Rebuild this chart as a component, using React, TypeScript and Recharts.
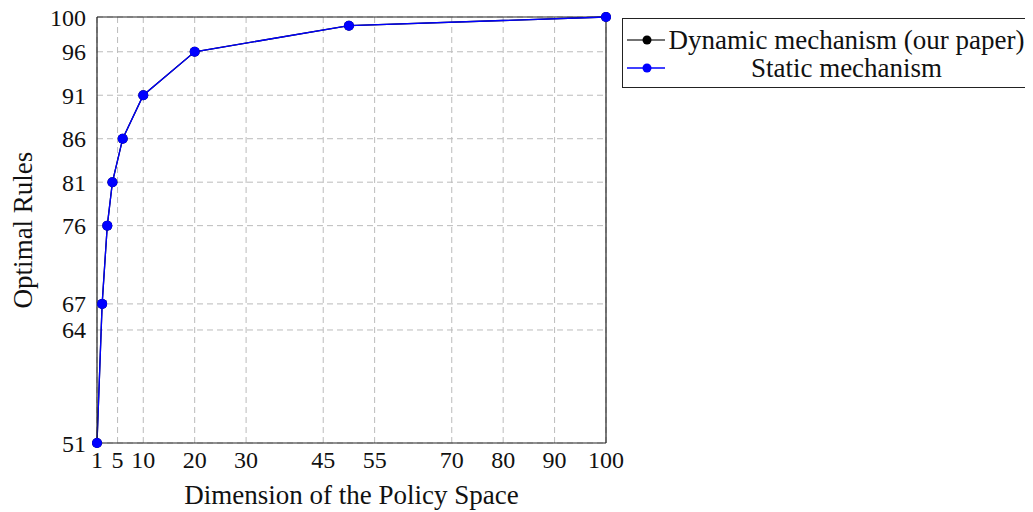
import React from "react";
import { LineChart, Line, XAxis, YAxis, CartesianGrid, ReferenceLine } from "recharts";

const dimensions = [1, 2, 3, 4, 6, 10, 20, 50, 100];
const dynamicValues = [51, 67, 76, 81, 86, 91, 96, 99, 100];
const staticValues = [51, 67, 76, 81, 86, 91, 96, 99, 100];
const xTicks = [1, 5, 10, 20, 30, 45, 55, 70, 80, 90, 100];
const yTicks = [51, 64, 67, 76, 81, 86, 91, 96, 100];
const seriesNames = ["Dynamic mechanism (our paper)", "Static mechanism"];

const data = dimensions.map((d, i) => ({ x: d, dynamic: dynamicValues[i], static: staticValues[i] }));

const FONT = "'Liberation Serif', 'DejaVu Serif', serif";

const LegendBox = () => (
  <div
    style={{
      position: "absolute",
      left: 614,
      top: 18,
      border: "1.3px solid #222",
      background: "#fff",
      width: 411,
      height: 70,
      boxSizing: "border-box",
      fontFamily: FONT,
      fontSize: 27,
      color: "#111",
      padding: "7px 4px 0 4px",
    }}
  >
    {[
      { name: seriesNames[0], color: "#000", line: "#444" },
      { name: seriesNames[1], color: "#0000ff", line: "#0000ff" },
    ].map((s) => (
      <div key={s.name} style={{ display: "flex", alignItems: "center", height: 28, lineHeight: "28px" }}>
        <svg width={38} height={28} style={{ flex: "none" }}>
          <line x1={0} y1={14} x2={38} y2={14} stroke={s.line} strokeWidth={1.3} />
          <circle cx={20} cy={14} r={4.5} fill={s.color} />
        </svg>
        <span style={{ flex: 1, textAlign: "center", whiteSpace: "nowrap" }}>{s.name}</span>
      </div>
    ))}
  </div>
);

export default function App() {
  return (
    <div style={{ position: "relative", width: 1025, height: 512, marginTop: -8 }}>
      <LineChart
        width={1025}
        height={512}
        data={data}
        margin={{ top: 17, right: 427, bottom: 0, left: 0 }}
        style={{ fontFamily: FONT }}
      >
        <CartesianGrid stroke="#bbb" strokeDasharray="6 4" strokeWidth={1} />
        <XAxis
          type="number"
          dataKey="x"
          domain={[1, 100]}
          ticks={xTicks}
          interval={0}
          height={69}
          tickLine={false}
          axisLine={{ stroke: "#222", strokeWidth: 1.2 }}
          tick={{ fill: "#111", fontSize: 24, fontFamily: FONT }}
          tickMargin={2}
          label={{ value: "Dimension of the Policy Space", position: "insideBottom", offset: 8, fill: "#111", fontSize: 27, fontFamily: FONT }}
        />
        <YAxis
          type="number"
          domain={[51, 100]}
          ticks={yTicks}
          interval={0}
          width={89}
          tickLine={false}
          axisLine={{ stroke: "#222", strokeWidth: 1.2 }}
          tick={{ fill: "#111", fontSize: 24, fontFamily: FONT }}
          tickMargin={5}
          label={{ value: "Optimal Rules", angle: -90, position: "insideLeft", offset: 14, fill: "#111", fontSize: 27, fontFamily: FONT, style: { textAnchor: "middle" } }}
        />
        <ReferenceLine y={100} stroke="#222" strokeWidth={1.2} />
        <ReferenceLine x={100} stroke="#222" strokeWidth={1.2} />
        <Line
          dataKey="dynamic"
          name={seriesNames[0]}
          stroke="#000"
          strokeWidth={1.3}
          dot={{ r: 5, fill: "#000", stroke: "#000", strokeWidth: 0 }}
          activeDot={false}
          isAnimationActive={false}
        />
        <Line
          dataKey="static"
          name={seriesNames[1]}
          stroke="#0000ff"
          strokeWidth={1.3}
          dot={{ r: 5, fill: "#0000ff", stroke: "#0000ff", strokeWidth: 0 }}
          activeDot={false}
          isAnimationActive={false}
        />
      </LineChart>
      <LegendBox />
    </div>
  );
}
